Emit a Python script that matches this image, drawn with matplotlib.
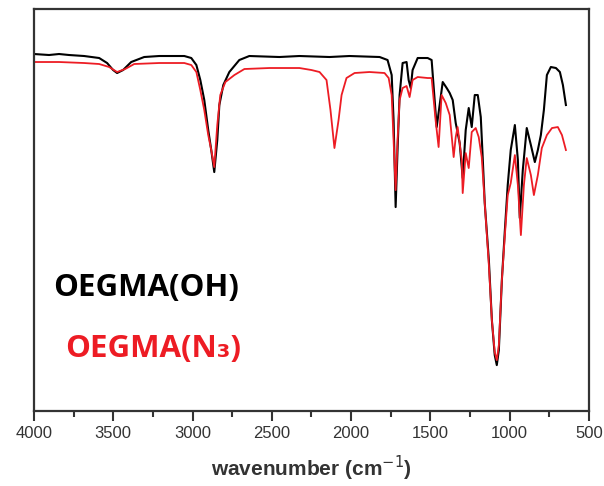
import numpy as np
import matplotlib
matplotlib.use('Agg')
import matplotlib.pyplot as plt
from matplotlib.ticker import MultipleLocator

# wavenumber (cm-1) and signal (arbitrary units)
wn_oh = [4000, 3905, 3842, 3779, 3684, 3589, 3539, 3501, 3476, 3438, 3387, 3305,
         3210, 3052, 3008, 2976, 2951, 2926, 2901, 2882, 2863, 2844, 2831, 2806,
         2768, 2705, 2642, 2452, 2326, 2136, 2010, 1820, 1770, 1744, 1732, 1719,
         1707, 1694, 1675, 1650, 1637, 1624, 1612, 1580, 1517, 1492, 1460, 1422,
         1397, 1378, 1359, 1340, 1315, 1296, 1277, 1258, 1239, 1220, 1201, 1182,
         1170, 1157, 1131, 1112, 1094, 1081, 1068, 1049, 1030, 1012, 993, 967,
         948, 936, 917, 892, 866, 841, 822, 803, 784, 765, 740, 708, 683, 664, 645]
sig_oh = [359, 358, 359, 358, 357, 355, 350, 343, 340, 343, 351, 356,
          357, 357, 355, 348, 333, 313, 283, 263, 241, 273, 308, 328,
          341, 353, 357, 356, 357, 356, 357, 356, 353, 338, 293, 206,
          263, 318, 350, 351, 333, 325, 343, 355, 355, 353, 286, 331,
          325, 320, 313, 290, 270, 235, 283, 305, 286, 318, 318, 296,
          256, 210, 153, 93, 58, 48, 63, 133, 183, 228, 263, 288,
          253, 195, 243, 285, 268, 251, 263, 278, 303, 338, 346, 345, 341, 328, 308]

wn_n3 = [4000, 3842, 3684, 3589, 3526, 3476, 3425, 3368, 3210, 3052, 3008, 2976,
         2951, 2926, 2901, 2882, 2863, 2844, 2825, 2793, 2736, 2673, 2515, 2326,
         2250, 2199, 2155, 2130, 2105, 2079, 2060, 2029, 1978, 1884, 1789, 1763,
         1744, 1732, 1719, 1707, 1694, 1675, 1650, 1631, 1612, 1580, 1517, 1492,
         1467, 1448, 1429, 1403, 1378, 1353, 1340, 1328, 1302, 1296, 1277, 1258,
         1239, 1214, 1195, 1176, 1157, 1131, 1112, 1094, 1081, 1068, 1049, 1030,
         1012, 993, 967, 948, 929, 910, 892, 866, 847, 822, 797, 765, 733, 696,
         670, 645]
sig_n3 = [351, 351, 350, 349, 346, 341, 344, 349, 350, 350, 348, 341,
          323, 303, 278, 263, 246, 288, 318, 331, 338, 344, 345, 345,
          343, 341, 333, 303, 265, 293, 318, 335, 340, 341, 340, 335,
          318, 273, 223, 273, 313, 325, 327, 316, 333, 336, 335, 335,
          293, 266, 318, 310, 298, 256, 276, 286, 253, 220, 260, 245,
          281, 285, 276, 256, 210, 148, 93, 61, 53, 68, 133, 178,
          218, 230, 258, 228, 178, 228, 255, 238, 218, 238, 265, 278, 285, 286,
          278, 263]

labels = ['OEGMA(OH)', 'OEGMA(N\u2083)']
colors = ['#000000', '#ed1c24']

fig = plt.figure(figsize=(6.04, 4.86), dpi=100)
ax = fig.add_axes([0.0563, 0.154, 0.9187, 0.8275])

ax.plot(wn_oh, sig_oh, color=colors[0], lw=1.5)
ax.plot(wn_n3, sig_n3, color=colors[1], lw=1.3)

ax.set_xlim(4000, 500)
ax.set_ylim(2, 404)
ax.xaxis.set_major_locator(MultipleLocator(500))
ax.xaxis.set_minor_locator(MultipleLocator(250))
ax.set_yticks([])
ax.tick_params(axis='x', which='major', direction='out', length=7, width=1.5,
               colors='#333333', labelsize=12, pad=4)
ax.tick_params(axis='x', which='minor', direction='out', length=4, width=1.5,
               colors='#333333')
for s in ax.spines.values():
    s.set_color('#333333')
    s.set_linewidth(1.6)

ax.set_xlabel('wavenumber (cm$^{-1}$)', fontsize=15, fontweight='bold',
              color='#333333', labelpad=9, family='Liberation Sans')
for t in ax.get_xticklabels():
    t.set_family('Liberation Sans')

fig.text(53 / 604, 1 - 288 / 486, labels[0], color=colors[0], fontsize=22.5,
         fontweight='bold', family=['Open Sans', 'DejaVu Sans'], va='center', ha='left')
fig.text(65 / 604, 1 - 349 / 486, labels[1], color=colors[1], fontsize=22.5,
         fontweight='bold', family=['Open Sans', 'DejaVu Sans'], va='center', ha='left')

plt.savefig('out.png', dpi=100)
